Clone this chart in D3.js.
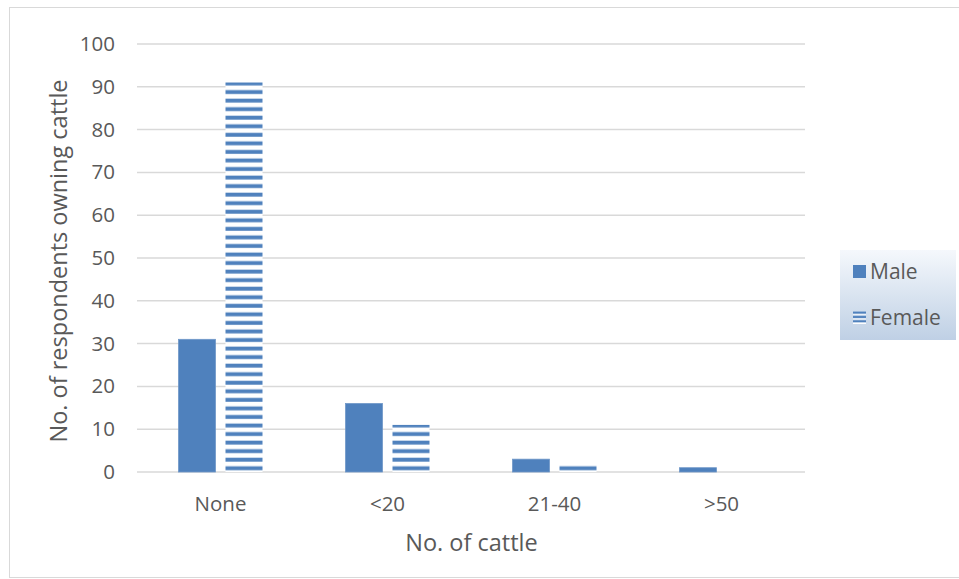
<!DOCTYPE html>
<html>
<head>
<meta charset="utf-8">
<script src="https://cdn.jsdelivr.net/npm/d3@7"></script>
<style>
  html, body { margin: 0; padding: 0; background: #fff; }
  svg { display: block; font-family: "Open Sans", Lato, sans-serif; }
</style>
</head>
<body>
<svg id="chart" width="959" height="579"></svg>
<script>
// Cattle ownership by gender of respondent
const categories = ["None", "<20", "21-40", ">50"];
const seriesNames = ["Male", "Female"];
const maleValues = [31, 16, 3, 1];
const femaleValues = [91, 11, 2, 0];
const yTicks = [0, 10, 20, 30, 40, 50, 60, 70, 80, 90, 100];

const blue = "#4f81bd";
const textColor = "#595959";
const gridColor = "#d9d9d9";
const font = "'Open Sans', Lato, sans-serif";

const svg = d3.select("#chart");
const margin = { left: 137, right: 154, top: 44, bottom: 107 };
const W = 959, H = 579;
const plotW = W - margin.left - margin.right;
const plotH = H - margin.top - margin.bottom;

// Chart border
svg.append("rect")
  .attr("x", 9.5).attr("y", 7.5)
  .attr("width", 960).attr("height", 570)
  .attr("fill", "none").attr("stroke", gridColor).attr("stroke-width", 1);

const defs = svg.append("defs");
// Horizontal stripe fill for the Female series
const pat = defs.append("pattern")
  .attr("id", "hstripe")
  .attr("patternUnits", "userSpaceOnUse")
  .attr("width", 8).attr("height", 8.55)
  .attr("y", margin.top + plotH);
pat.append("rect").attr("x", 0).attr("y", 0).attr("width", 8).attr("height", 8.55).attr("fill", "#fff");
pat.append("rect").attr("x", 0).attr("y", 1.6).attr("width", 8).attr("height", 3.9).attr("fill", blue);

// Legend background gradient
const grad = defs.append("linearGradient")
  .attr("id", "legendGrad").attr("x1", 0).attr("y1", 0).attr("x2", 0).attr("y2", 1);
grad.append("stop").attr("offset", "0%").attr("stop-color", "#f5f8fc");
grad.append("stop").attr("offset", "55%").attr("stop-color", "#d7e2ef");
grad.append("stop").attr("offset", "100%").attr("stop-color", "#bfd0e5");

const x0 = d3.scaleBand().domain(categories).range([0, plotW]);
const y = d3.scaleLinear().domain([0, 100]).range([plotH, 0]);

const g = svg.append("g").attr("transform", `translate(${margin.left},${margin.top})`);

// Gridlines
g.append("g").selectAll("line").data(yTicks).join("line")
  .attr("x1", 0).attr("x2", plotW)
  .attr("y1", d => y(d)).attr("y2", d => y(d))
  .attr("stroke", gridColor).attr("stroke-width", 1.5);

// Y axis tick labels
const yAxis = d3.axisLeft(y).tickValues(yTicks).tickSize(0).tickPadding(22);
const ya = g.append("g").call(yAxis);
ya.select(".domain").remove();
ya.selectAll("text").attr("fill", textColor).attr("font-size", 20.5)
  .attr("font-family", font);

// X axis labels
const xAxis = d3.axisBottom(x0).tickSize(0).tickPadding(24);
const xa = g.append("g").attr("transform", `translate(0,${plotH})`).call(xAxis);
xa.select(".domain").remove();
xa.selectAll("text").attr("fill", textColor).attr("font-size", 20.5)
  .attr("font-family", font);

// Bars
const barW = 37, innerGap = 10;
const rows = categories.map((c, i) => ({ cat: c, male: maleValues[i], female: femaleValues[i] }));
const groups = g.append("g").selectAll("g").data(rows).join("g")
  .attr("transform", d => `translate(${x0(d.cat) + x0.bandwidth() / 2},0)`);

groups.append("rect")
  .attr("x", -barW - innerGap / 2)
  .attr("width", barW)
  .attr("y", d => y(d.male))
  .attr("height", d => y(0) - y(d.male))
  .attr("fill", blue)
  .attr("stroke", "#6f97c8").attr("stroke-width", 0.8);

groups.append("rect")
  .attr("x", innerGap / 2)
  .attr("width", barW)
  .attr("y", d => y(d.female))
  .attr("height", d => y(0) - y(d.female))
  .attr("fill", "url(#hstripe)");

// Axis titles
svg.append("text")
  .attr("x", margin.left + plotW / 2 + 0.5).attr("y", 551)
  .attr("text-anchor", "middle").attr("fill", textColor).attr("font-size", 23.5)
  .text("No. of cattle");

svg.append("text")
  .attr("transform", `translate(67,${margin.top + plotH / 2 + 3}) rotate(-90)`)
  .attr("text-anchor", "middle").attr("fill", textColor).attr("font-size", 23.5)
  .text("No. of respondents owning cattle");

// Legend
const lg = svg.append("g");
lg.append("rect").attr("x", 840).attr("y", 250).attr("width", 116).attr("height", 90)
  .attr("fill", "url(#legendGrad)");
const items = seriesNames.map((n, i) => ({ name: n, fill: i === 0 ? blue : "url(#legendStripe)", yy: 271 + i * 46 }));
const lpat = defs.append("pattern")
  .attr("id", "legendStripe").attr("patternUnits", "userSpaceOnUse")
  .attr("width", 13).attr("height", 4.3).attr("y", 311);
lpat.append("rect").attr("width", 13).attr("height", 4.3).attr("fill", "#fff");
lpat.append("rect").attr("y", 0.4).attr("width", 13).attr("height", 2.4).attr("fill", blue);

lg.selectAll("rect.sw").data(items).join("rect").attr("class", "sw")
  .attr("x", 853).attr("y", d => d.yy - 6).attr("width", 13).attr("height", 13)
  .attr("fill", d => d.fill);
lg.selectAll("text").data(items).join("text")
  .attr("x", 870).attr("y", d => d.yy + 8)
  .attr("fill", textColor).attr("font-size", 21)
  .text(d => d.name);
</script>
</body>
</html>
